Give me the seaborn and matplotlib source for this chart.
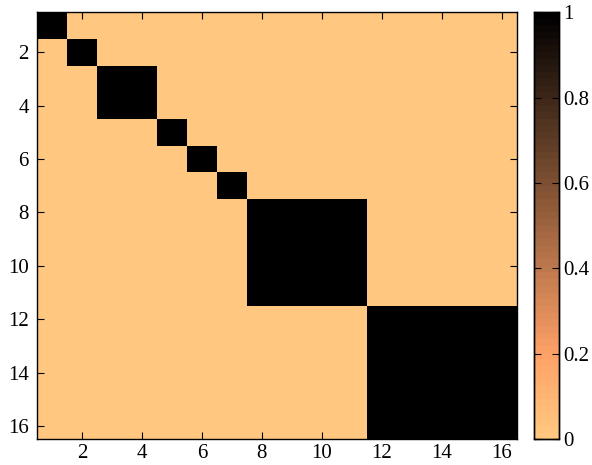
import numpy as np
import matplotlib
matplotlib.use("Agg")
import matplotlib.pyplot as plt
from matplotlib.colors import ListedColormap
import seaborn as sns

# cluster membership of the 16 items
cluster_ids = [1, 2, 3, 3, 4, 5, 6, 7, 7, 7, 7, 8, 8, 8, 8, 8]
tick_values = [2, 4, 6, 8, 10, 12, 14, 16]
cbar_ticks = [0, 0.2, 0.4, 0.6, 0.8, 1]

labels = np.array(cluster_ids)
matrix = (labels[:, None] == labels[None, :]).astype(float)

sns.set_style("white")
plt.rcParams["font.family"] = ["Liberation Serif", "DejaVu Serif"]
plt.rcParams["axes.axisbelow"] = False

cmap = ListedColormap(plt.get_cmap("copper_r")(np.linspace(0, 1, 64)))

fig = plt.figure(figsize=(5.92, 4.65), dpi=100)
ax = fig.add_axes([0.0625, 0.055, 0.8105, 0.919])
cax = fig.add_axes([0.902, 0.055, 0.042, 0.919])

sns.heatmap(matrix, ax=ax, cbar_ax=cax, cmap=cmap, vmin=0, vmax=1,
            xticklabels=False, yticklabels=False)

ax.set_axisbelow(False)
ax.set_xticks([v - 0.5 for v in tick_values])
ax.set_xticklabels([str(v) for v in tick_values])
ax.set_yticks([v - 0.5 for v in tick_values])
ax.set_yticklabels([str(v) for v in tick_values], rotation=0)
ax.tick_params(direction="in", length=5, width=0.8, top=True, right=True,
               bottom=True, left=True, labelsize=15, pad=6, colors="black")
ax.tick_params(axis="x", pad=3)
for s in ax.spines.values():
    s.set_visible(True)
    s.set_color("black")
    s.set_linewidth(1.0)

cax.set_axisbelow(False)
cax.set_yticks(cbar_ticks)
cax.set_yticklabels(["0", "0.2", "0.4", "0.6", "0.8", "1"])
cax.tick_params(direction="in", length=5, width=0.8, left=True, right=True,
                labelsize=15, pad=3, colors="black")
for s in cax.spines.values():
    s.set_visible(True)
    s.set_color("black")
    s.set_linewidth(1.0)

fig.savefig("out.png", dpi=100)
